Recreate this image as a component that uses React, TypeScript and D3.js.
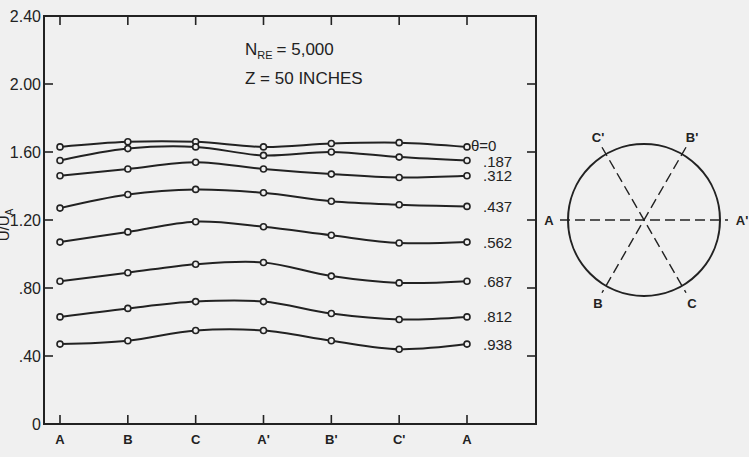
import * as d3 from "d3"

// stations around the pipe
const stations = ["A", "B", "C", "A'", "B'", "C'", "A"]

// U/U_A at each station, one array per theta
const theta0 = [1.63, 1.66, 1.66, 1.63, 1.65, 1.655, 1.63]
const theta187 = [1.55, 1.62, 1.63, 1.58, 1.6, 1.57, 1.55]
const theta312 = [1.46, 1.5, 1.54, 1.5, 1.47, 1.45, 1.46]
const theta437 = [1.27, 1.35, 1.38, 1.36, 1.31, 1.29, 1.28]
const theta562 = [1.07, 1.13, 1.19, 1.16, 1.11, 1.065, 1.07]
const theta687 = [0.84, 0.89, 0.94, 0.95, 0.87, 0.83, 0.84]
const theta812 = [0.63, 0.68, 0.72, 0.72, 0.65, 0.615, 0.63]
const theta938 = [0.47, 0.49, 0.55, 0.55, 0.49, 0.44, 0.47]

const seriesLabels = ["θ=0", ".187", ".312", ".437", ".562", ".687", ".812", ".938"]
const yTicks = [0, 0.4, 0.8, 1.2, 1.6, 2.0, 2.4]
const yTickLabels = ["0", ".40", ".80", "1.20", "1.60", "2.00", "2.40"]

// section diagram labels
const diagramLabels = ["A", "A'", "B'", "C'", "B", "C"]

export default function App() {
  const series = [theta0, theta187, theta312, theta437, theta562, theta687, theta812, theta938]

  const left = 44
  const right = 536
  const top = 16
  const bottom = 424
  const tickLen = 9
  const ink = "#222"
  const font = "'Liberation Sans', Arial, sans-serif"

  const x = d3
    .scalePoint<number>()
    .domain(d3.range(stations.length))
    .range([60, 467])
  const y = d3.scaleLinear().domain([0, 2.4]).range([bottom, top])

  const line = d3
    .line<number>()
    .x((d, i) => x(i)!)
    .y((d) => y(d))
    .curve(d3.curveCatmullRom.alpha(0.5))

  const innerTicks = yTicks.filter((t) => t > 0 && t < 2.4)

  // diagram geometry
  const cx = 644
  const cy = 220
  const r = 76
  const ext = 84
  const rad = Math.PI / 3
  const diagLines = [
    [cx - ext, cy, cx + ext, cy],
    [cx - ext * Math.cos(rad), cy - ext * Math.sin(rad), cx + ext * Math.cos(rad), cy + ext * Math.sin(rad)],
    [cx + ext * Math.cos(rad), cy - ext * Math.sin(rad), cx - ext * Math.cos(rad), cy + ext * Math.sin(rad)],
  ]
  const labelPos = [
    [cx - 95, cy],
    [cx + 98, cy],
    [cx + 48, cy - 83],
    [cx - 46, cy - 83],
    [cx - 46, cy + 83],
    [cx + 48, cy + 83],
  ]

  return (
    <svg
      width={749}
      height={457}
      style={{ position: "absolute", left: 0, top: 0, background: "#f0f0f0" }}
      fontFamily={font}
    >
      <rect x={0} y={0} width={749} height={457} fill="#f0f0f0" />

      {/* frame */}
      <rect x={left} y={top} width={right - left} height={bottom - top} fill="none" stroke={ink} strokeWidth={2} />

      {/* x ticks, top and bottom */}
      {stations.map((s, i) => (
        <g key={"xt" + i}>
          <line x1={x(i)} x2={x(i)} y1={bottom} y2={bottom - tickLen} stroke={ink} strokeWidth={1.6} />
          <line x1={x(i)} x2={x(i)} y1={top} y2={top + tickLen} stroke={ink} strokeWidth={1.6} />
          <text x={x(i)} y={444} textAnchor="middle" fontSize={13} fontWeight="bold" fill={ink}>
            {s}
          </text>
        </g>
      ))}

      {/* y ticks, left and right */}
      {innerTicks.map((t) => (
        <g key={"yt" + t}>
          <line x1={left} x2={left + tickLen} y1={y(t)} y2={y(t)} stroke={ink} strokeWidth={1.6} />
          <line x1={right} x2={right - tickLen} y1={y(t)} y2={y(t)} stroke={ink} strokeWidth={1.6} />
        </g>
      ))}
      {yTicks.map((t, i) => (
        <text key={"yl" + t} x={41} y={y(t)} dy="0.36em" textAnchor="end" fontSize={16} fill={ink}>
          {yTickLabels[i]}
        </text>
      ))}

      {/* y axis title, clipped at the page edge as in the source */}
      <text transform="translate(9,225) rotate(-90)" textAnchor="middle" fontSize={15} fill={ink}>
        U/U
        <tspan fontSize={10} dy={4}>
          A
        </tspan>
      </text>

      {/* annotation */}
      <text x={245} y={55} fontSize={17} fill={ink}>
        N
        <tspan fontSize={11} dy={4}>
          RE
        </tspan>
        <tspan dy={-4} dx={4}>
          = 5,000
        </tspan>
      </text>
      <text x={245} y={84} fontSize={17} fill={ink}>
        Z = 50 INCHES
      </text>

      {/* curves */}
      {series.map((vals, k) => (
        <g key={"s" + k}>
          <path d={line(vals)!} fill="none" stroke={ink} strokeWidth={2} />
          {vals.map((v, i) => (
            <circle key={i} cx={x(i)} cy={y(v)} r={3} fill="#f0f0f0" stroke={ink} strokeWidth={1.6} />
          ))}
          <text
            x={k === 0 ? 471 : 483}
            y={y(vals[vals.length - 1]) + (k === 0 ? -1 : k === 1 ? 1 : 0)}
            dy="0.36em"
            fontSize={15}
            fill={ink}
          >
            {seriesLabels[k]}
          </text>
        </g>
      ))}

      {/* pipe section diagram */}
      <circle cx={cx} cy={cy} r={r} fill="none" stroke={ink} strokeWidth={2} />
      {diagLines.map((l, i) => (
        <line
          key={"dl" + i}
          x1={l[0]}
          y1={l[1]}
          x2={l[2]}
          y2={l[3]}
          stroke={ink}
          strokeWidth={1.4}
          strokeDasharray="10,5"
        />
      ))}
      {diagramLabels.map((s, i) => (
        <text
          key={"dlab" + i}
          x={labelPos[i][0]}
          y={labelPos[i][1]}
          dy="0.36em"
          textAnchor="middle"
          fontSize={13}
          fontWeight="bold"
          fill={ink}
        >
          {s}
        </text>
      ))}
    </svg>
  )
}
